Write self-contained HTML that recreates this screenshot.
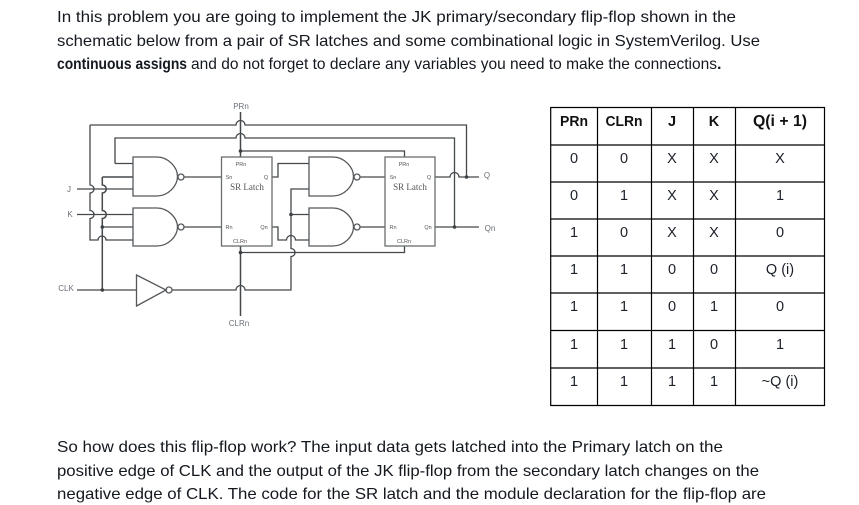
<!DOCTYPE html>
<html lang="en">
<head>
<meta charset="utf-8">
<title>JK flip-flop</title>
<style>
html,body{margin:0;padding:0;background:#fff;width:859px;height:505px;overflow:hidden}
svg{display:block}
text{font-family:"Liberation Sans",sans-serif}
.b{font-size:16px;fill:#14181f}
.t{font-size:14.500px;fill:#1a1f28;text-anchor:middle}
.h{font-size:14.500px;font-weight:bold;fill:#111;text-anchor:middle}
.w{fill:none;stroke:#44484b;stroke-width:1.300}
.g{fill:none;stroke:#55595c;stroke-width:1.300}
.d{fill:#3c4043}
.l{font-size:8px;fill:#6a7078;text-anchor:middle}
.s{font-size:5.500px;fill:#555;text-anchor:middle}
.sr{font-family:"Liberation Serif",serif;font-size:9px;fill:#555;text-anchor:middle}
.tb{stroke:#000;stroke-width:1.200;fill:none}
</style>
</head>
<body>
<svg width="859" height="505" viewBox="0 0 859 505" xmlns="http://www.w3.org/2000/svg">
<text class="b" x="57" y="22" textLength="679" lengthAdjust="spacingAndGlyphs">In this problem you are going to implement the JK primary/secondary flip-flop shown in the</text>
<text class="b" x="57" y="46" textLength="703" lengthAdjust="spacingAndGlyphs">schematic below from a pair of SR latches and some combinational logic in SystemVerilog.  Use</text>
<text class="b" x="57" y="69" textLength="130" lengthAdjust="spacingAndGlyphs" font-weight="bold">continuous assigns</text>
<text class="b" x="191" y="69" textLength="526" lengthAdjust="spacingAndGlyphs">and do not forget to declare any variables you need to make the connections</text>
<text class="b" x="717" y="69" font-weight="bold">.</text>
<text class="b" x="57" y="452" textLength="666" lengthAdjust="spacingAndGlyphs">So how does this flip-flop work?  The input data gets latched into the Primary latch on the</text>
<text class="b" x="57" y="476" textLength="702" lengthAdjust="spacingAndGlyphs">positive edge of CLK and the output of the JK flip-flop from the secondary latch changes on the</text>
<text class="b" x="57" y="499" textLength="709" lengthAdjust="spacingAndGlyphs">negative edge of CLK.  The code for the SR latch and the module declaration for the flip-flop are</text>

<!-- truth table -->
<path class="tb" d="M550.700 107.500H824.500V405.500H550.700ZM550.700 145H824.500M550.700 182H824.500M550.700 219H824.500M550.700 256H824.500M550.700 293H824.500M550.700 330.500H824.500M550.700 368H824.500M597.500 107V405.500M651.500 107V405.500M693.500 107V405.500M735.500 107V405.500"/>
<g class="h"><text x="574" y="126" textLength="28" lengthAdjust="spacingAndGlyphs">PRn</text><text x="624" y="126" textLength="37" lengthAdjust="spacingAndGlyphs">CLRn</text><text x="672" y="126">J</text><text x="714" y="126">K</text><text x="780" y="126" style="font-size:15.500px" textLength="54" lengthAdjust="spacingAndGlyphs">Q(i + 1)</text></g>
<g class="t">
<text x="574" y="163">0</text><text x="624" y="163">0</text><text x="672" y="163">X</text><text x="714" y="163">X</text><text x="780" y="163">X</text>
<text x="574" y="200">0</text><text x="624" y="200">1</text><text x="672" y="200">X</text><text x="714" y="200">X</text><text x="780" y="200">1</text>
<text x="574" y="237">1</text><text x="624" y="237">0</text><text x="672" y="237">X</text><text x="714" y="237">X</text><text x="780" y="237">0</text>
<text x="574" y="274">1</text><text x="624" y="274">1</text><text x="672" y="274">0</text><text x="714" y="274">0</text><text x="780" y="274">Q (i)</text>
<text x="574" y="311">1</text><text x="624" y="311">1</text><text x="672" y="311">0</text><text x="714" y="311">1</text><text x="780" y="311">0</text>
<text x="574" y="349">1</text><text x="624" y="349">1</text><text x="672" y="349">1</text><text x="714" y="349">0</text><text x="780" y="349">1</text>
<text x="574" y="386">1</text><text x="624" y="386">1</text><text x="672" y="386">1</text><text x="714" y="386">1</text><text x="780" y="386">~Q (i)</text>
</g>

<!-- schematic wires -->
<g class="w">
<path d="M240.500 112V157M240.500 246V316" stroke-width="1.500"/>
<path d="M90 125H236A4.500 4.500 0 0 1 245 125H466.500V177"/>
<path d="M115 163.500V138H236A4.500 4.500 0 0 1 245 138H454.500V227"/>
<path d="M115 163.500H133"/>
<path d="M240.500 151H404.500V157"/>
<path d="M90 125V185A4 4 0 0 1 90 193V210.500A4 4 0 0 1 90 218.500V240H98A4 4 0 0 1 106 240H133"/>
<path d="M102.300 177H133M102.300 177V185A4 4 0 0 1 102.300 193V210.500A4 4 0 0 1 102.300 218.500V290" stroke-width="1.500"/>
<path d="M102.300 227H133"/>
<path d="M77 189H133M77 214.500H133"/>
<path d="M77 290H136.500"/>
<path d="M172 290H236A4.500 4.500 0 0 1 245 290H291V256.500A4 4 0 0 0 291 248.500V189H309M291 214.500H309"/>
<path d="M272 177H278V163.500H309M272 227H278V240H286.500A4.500 4.500 0 0 1 295.500 240H309"/>
<path d="M240.500 252.500H404.500V246"/>
<path d="M184 177H221M184 227H221"/>
<path d="M360 177H385M360 227H385"/>
<path d="M435 177H450A4.500 4.500 0 0 1 459 177H479"/>
<path d="M435 227H479"/>
</g>

<!-- gates -->
<g class="g" fill="#fff">
<path d="M133 157H157C168 157 177.500 167 177.500 176.500C177.500 186 168 196 157 196H133Z"/>
<path d="M133 208H157C168 208 177.500 218 177.500 227C177.500 236.500 168 246 157 246H133Z"/>
<path d="M309 157H333C344 157 353.500 167 353.500 176.500C353.500 186 344 196 333 196H309Z"/>
<path d="M309 208H333C344 208 353.500 218 353.500 227C353.500 236.500 344 246 333 246H309Z"/>
<circle cx="181" cy="177" r="3"/>
<circle cx="181" cy="227" r="3"/>
<circle cx="357" cy="177" r="3"/>
<circle cx="357" cy="227" r="3"/>
<path d="M136.500 275L166 290L136.500 306Z"/>
<circle cx="169" cy="290" r="3"/>
<rect x="221.500" y="157" width="50.500" height="89" stroke="#6a6e70"/>
<rect x="385" y="157" width="50" height="89" stroke="#6a6e70"/>
</g>

<!-- junction dots -->
<g class="d">
<circle cx="240.500" cy="151" r="1.800"/>
<circle cx="240.500" cy="252.500" r="1.800"/>
<circle cx="102.300" cy="227" r="1.800"/>
<circle cx="102.300" cy="290" r="1.800"/>
<circle cx="291" cy="214.500" r="1.800"/>
<circle cx="466.500" cy="177" r="1.800"/>
<circle cx="454.500" cy="227" r="1.800"/>
</g>

<!-- labels -->
<g class="l">
<text x="241" y="109">PRn</text>
<text x="239" y="326">CLRn</text>
<text x="69" y="192">J</text>
<text x="70" y="217">K</text>
<text x="66" y="291">CLK</text>
<text x="487" y="178">Q</text>
<text x="490" y="231">Qn</text>
</g>
<g class="s">
<text x="241" y="166">PRn</text><text x="229" y="179">Sn</text><text x="266" y="179">Q</text>
<text x="229" y="229">Rn</text><text x="264" y="229">Qn</text><text x="240" y="243">CLRn</text>
<text x="404" y="166">PRn</text><text x="393" y="179">Sn</text><text x="429" y="179">Q</text>
<text x="393" y="229">Rn</text><text x="428" y="229">Qn</text><text x="404" y="243">CLRn</text>
</g>
<text class="sr" x="247" y="190">SR Latch</text>
<text class="sr" x="410" y="190">SR Latch</text>
</svg>
</body>
</html>
